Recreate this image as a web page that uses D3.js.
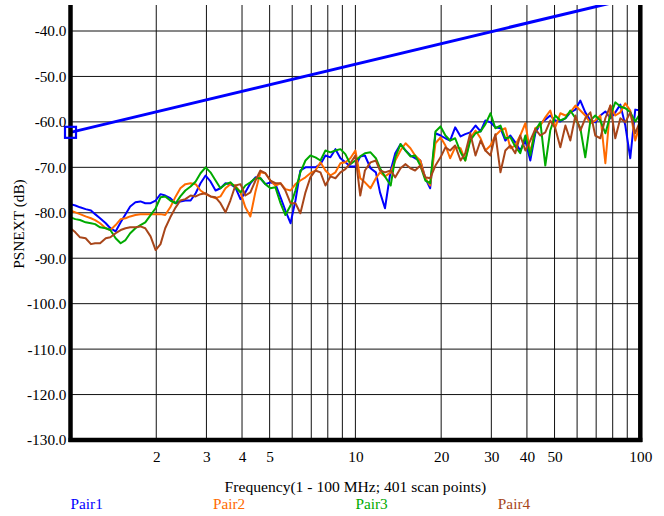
<!DOCTYPE html>
<html><head><meta charset="utf-8">
<script src="https://cdn.jsdelivr.net/npm/d3@7"></script>
<style>body{margin:0;background:#fff} svg{display:block}</style>
</head><body>
<svg id="chart" width="664" height="516"></svg>
<script>
// Frequency scan points (MHz)
const freqs = [1.00,1.04,1.08,1.13,1.18,1.22,1.27,1.33,1.38,1.44,1.50,1.56,1.62,1.69,1.76,1.83,1.91,1.99,2.07,2.15,2.24,2.34,2.43,2.53,2.64,2.75,2.86,2.98,3.10,3.23,3.36,3.50,3.64,3.79,3.95,4.11,4.28,4.46,4.64,4.83,5.03,5.24,5.46,5.68,5.92,6.16,6.41,6.68,6.95,7.24,7.54,7.85,8.17,8.51,8.86,9.22,9.60,10.0,10.4,10.8,11.3,11.8,12.2,12.7,13.3,13.8,14.4,15.0,15.6,16.2,16.9,17.6,18.3,19.1,19.9,20.7,21.5,22.4,23.4,24.3,25.3,26.4,27.5,28.6,29.8,31.0,32.3,33.6,35.0,36.4,37.9,39.5,41.1,42.8,44.6,46.4,48.3,50.3,52.4,54.6,56.8,59.2,61.6,64.1,66.8,69.5,72.4,75.4,78.5,81.7,85.1,88.6,92.2,96.0,100];

const pair1 = [-78.1,-78.4,-78.8,-79.2,-79.5,-80.3,-81.2,-82.3,-83.4,-84.1,-82.1,-80.3,-78.6,-77.7,-77.5,-77.9,-77.9,-77.3,-75.9,-76.2,-76.8,-77.9,-77.5,-77.3,-77.3,-75.7,-73.5,-71.8,-73.1,-75.1,-74.6,-73.5,-73.7,-74.4,-77.0,-75.5,-73.5,-72.2,-72.4,-73.7,-73.3,-73.7,-76.6,-79.5,-82.3,-77.3,-70.7,-70.0,-70.0,-70.0,-69.3,-67.4,-67.8,-66.0,-68.0,-68.9,-69.8,-69.8,-67.6,-67.4,-70.2,-71.1,-75.5,-79.0,-70.7,-66.9,-64.9,-66.3,-67.4,-68.0,-68.5,-72.4,-74.6,-62.5,-63.0,-63.6,-64.1,-61.2,-63.2,-62.7,-62.3,-60.8,-62.1,-59.7,-60.1,-61.2,-61.4,-64.1,-63.0,-64.5,-66.3,-64.1,-68.5,-62.5,-60.3,-59.5,-58.6,-59.7,-59.9,-59.2,-57.9,-57.3,-55.3,-57.9,-59.7,-60.1,-58.6,-57.7,-59.2,-57.9,-56.2,-60.8,-68.0,-57.3,-57.5];

const pair2 = [-79.5,-79.9,-80.3,-80.8,-81.2,-81.6,-82.3,-83.4,-83.8,-82.7,-81.4,-81.2,-80.8,-80.5,-80.3,-80.3,-80.3,-80.3,-80.3,-80.5,-78.8,-76.4,-74.6,-73.7,-73.5,-73.7,-75.1,-75.9,-76.4,-76.8,-76.4,-74.6,-73.7,-74.0,-75.5,-78.8,-80.8,-75.3,-71.1,-71.3,-72.9,-74.0,-73.5,-74.8,-75.1,-73.7,-72.9,-72.2,-71.3,-70.7,-68.9,-70.7,-71.8,-71.1,-69.1,-68.9,-68.0,-66.3,-72.4,-73.3,-74.6,-72.4,-71.1,-72.0,-71.1,-68.5,-66.3,-64.7,-65.8,-67.4,-68.5,-72.4,-74.0,-64.7,-63.4,-65.2,-68.0,-65.6,-65.8,-68.5,-63.6,-61.9,-63.6,-66.3,-65.2,-63.0,-61.9,-61.4,-65.8,-65.2,-63.0,-60.3,-66.9,-61.4,-60.8,-59.0,-57.5,-61.2,-58.1,-58.6,-57.9,-56.4,-57.5,-58.6,-60.3,-59.7,-58.6,-69.1,-56.4,-58.6,-57.9,-55.9,-57.5,-64.1,-60.3];

const pair3 = [-81.0,-81.4,-81.6,-82.1,-82.3,-82.5,-83.2,-83.4,-83.8,-85.6,-86.7,-86.0,-84.5,-83.4,-82.7,-82.1,-80.5,-79.0,-76.6,-76.4,-77.3,-77.9,-76.4,-75.1,-74.2,-73.1,-71.3,-70.0,-71.1,-72.9,-74.6,-73.7,-73.3,-74.4,-75.5,-74.0,-73.3,-72.4,-72.4,-73.7,-74.6,-74.4,-77.9,-80.5,-78.4,-75.1,-71.1,-68.5,-67.4,-67.8,-68.5,-66.3,-66.7,-66.3,-66.0,-67.1,-69.3,-68.5,-67.6,-66.9,-66.7,-68.0,-70.2,-72.0,-74.0,-67.8,-64.9,-66.3,-67.6,-67.4,-69.6,-72.9,-73.5,-62.1,-61.0,-63.0,-64.1,-63.6,-66.7,-68.5,-64.1,-62.5,-62.1,-60.5,-58.1,-61.4,-60.8,-63.6,-63.4,-65.4,-66.9,-63.0,-67.4,-61.9,-60.1,-69.6,-61.9,-58.6,-59.7,-59.2,-57.5,-59.2,-61.4,-67.8,-59.7,-58.6,-59.7,-62.5,-58.6,-55.7,-56.6,-57.0,-57.9,-59.9,-58.1];

const pair4 = [-83.4,-84.3,-85.4,-85.6,-86.9,-86.7,-86.7,-85.6,-85.4,-84.5,-83.8,-83.4,-83.2,-83.2,-83.0,-83.4,-85.2,-88.2,-86.9,-83.4,-81.0,-78.8,-77.3,-77.0,-76.2,-76.4,-75.9,-75.7,-76.4,-76.6,-77.9,-79.9,-77.3,-74.0,-73.7,-76.2,-75.5,-72.9,-70.7,-71.3,-72.9,-73.5,-73.5,-75.1,-77.9,-77.9,-80.1,-75.5,-72.2,-70.7,-71.1,-74.0,-72.0,-72.4,-71.1,-70.4,-69.1,-67.4,-76.2,-70.7,-68.9,-68.5,-70.7,-71.1,-70.7,-72.2,-70.2,-69.3,-70.2,-70.7,-69.6,-72.2,-72.4,-69.6,-67.8,-65.6,-66.3,-65.2,-68.5,-66.9,-62.5,-67.4,-64.1,-66.3,-67.4,-62.7,-71.1,-66.3,-65.2,-66.9,-63.0,-66.3,-64.1,-61.6,-63.0,-62.3,-59.7,-61.4,-65.6,-60.8,-64.1,-58.6,-61.9,-59.2,-57.9,-63.0,-63.6,-59.2,-56.4,-63.6,-59.2,-60.1,-57.9,-62.5,-59.7];

const seriesNames = ["Pair1", "Pair2", "Pair3", "Pair4"];
const seriesColors = ["#0000ff", "#ff6a00", "#00aa00", "#a8461a"];
const seriesValues = [pair1, pair2, pair3, pair4];

// Limit line (PSNEXT limit)
const limitFreq = [1, 100];
const limitDb = [-62.3, -32.3];

const yTicks = [-130, -120, -110, -100, -90, -80, -70, -60, -50, -40];
const xTickLabels = [2, 3, 4, 5, 10, 20, 30, 40, 50, 100];
const xGridLines = [2, 3, 4, 5, 6, 7, 8, 9, 10, 20, 30, 40, 50, 60, 70, 80, 90];

const svg = d3.select("#chart");
const FONT = "'Liberation Serif', 'Times New Roman', Tinos, serif";
const L = 70.5, R = 640.3, T = 5, B = 440;

const x = d3.scaleLog().domain([1, 100]).range([L, R]);
const y = d3.scaleLinear().domain([-130, -40]).range([B, 31]);

svg.append("rect").attr("width", 664).attr("height", 516).attr("fill", "#fff");

svg.append("defs").append("clipPath").attr("id", "clip")
  .append("rect").attr("x", L).attr("y", T).attr("width", R - L).attr("height", B - T);

// grid
const grid = svg.append("g");
grid.selectAll("line.v").data(xGridLines).enter().append("line")
  .attr("x1", d => x(d)).attr("x2", d => x(d)).attr("y1", T).attr("y2", B)
  .attr("stroke", "#111").attr("stroke-width", 1);
grid.selectAll("line.h").data(yTicks.slice(1)).enter().append("line")
  .attr("x1", L).attr("x2", R).attr("y1", d => y(d)).attr("y2", d => y(d))
  .attr("stroke", "#111").attr("stroke-width", 1);

// data lines
const plot = svg.append("g").attr("clip-path", "url(#clip)");
const line = d3.line().x(d => x(d[0])).y(d => y(d[1]));
seriesValues.forEach((vals, i) => {
  plot.append("path")
    .datum(freqs.map((f, j) => [f, vals[j]]))
    .attr("d", line)
    .attr("fill", "none")
    .attr("stroke", seriesColors[i])
    .attr("stroke-width", 2)
    .attr("stroke-linejoin", "round");
});

// limit line
plot.append("path")
  .datum(limitFreq.map((f, j) => [f, limitDb[j]]))
  .attr("d", line)
  .attr("fill", "none").attr("stroke", "#0000ff").attr("stroke-width", 3);

// axis frame
svg.append("line").attr("x1", L).attr("x2", L).attr("y1", T).attr("y2", B + 2)
  .attr("stroke", "#000").attr("stroke-width", 4.5);
svg.append("line").attr("x1", R).attr("x2", R).attr("y1", T).attr("y2", B + 2)
  .attr("stroke", "#000").attr("stroke-width", 4.5);
svg.append("line").attr("x1", L - 2).attr("x2", R + 2).attr("y1", B).attr("y2", B)
  .attr("stroke", "#000").attr("stroke-width", 4.5);

// limit marker
svg.append("rect")
  .attr("x", x(limitFreq[0]) - 5.5).attr("y", y(limitDb[0]) - 5.5)
  .attr("width", 11).attr("height", 11)
  .attr("fill", "none").attr("stroke", "#0000ff").attr("stroke-width", 2.2);

// axes labels
const yAxis = svg.append("g").attr("transform", `translate(${L - 2},0)`)
  .call(d3.axisLeft(y).tickValues(yTicks).tickFormat(d => d.toFixed(1)).tickSize(0).tickPadding(2));
yAxis.select(".domain").remove();
yAxis.attr("font-family", FONT);
yAxis.selectAll("text").attr("font-family", FONT).attr("font-size", 15.3).attr("fill", "#000");

const xAxis = svg.append("g").attr("transform", `translate(0,${B})`)
  .call(d3.axisBottom(x).tickValues(xTickLabels).tickFormat(d => String(d)).tickSize(0).tickPadding(11));
xAxis.select(".domain").remove();
xAxis.attr("font-family", FONT);
xAxis.selectAll("text").attr("font-family", FONT).attr("font-size", 15.3).attr("fill", "#000");

svg.append("text").attr("x", (L + R) / 2).attr("y", 486)
  .attr("text-anchor", "middle").attr("dominant-baseline", "central")
  .attr("font-family", FONT).attr("font-size", 15.6).attr("fill", "#000")
  .text("Frequency(1 - 100 MHz; 401 scan points)");

svg.append("text").attr("transform", "translate(18,224) rotate(-90)")
  .attr("text-anchor", "middle").attr("dominant-baseline", "central")
  .attr("font-family", FONT).attr("font-size", 15.3).attr("fill", "#000")
  .text("PSNEXT (dB)");

// legend
svg.selectAll("text.legend").data(seriesNames).enter().append("text")
  .attr("class", "legend")
  .attr("x", (d, i) => L + i * (R - L) / 4)
  .attr("y", 503)
  .attr("dominant-baseline", "central")
  .attr("font-family", FONT).attr("font-size", 15.3)
  .attr("fill", (d, i) => seriesColors[i])
  .text(d => d);
</script>
</body></html>
